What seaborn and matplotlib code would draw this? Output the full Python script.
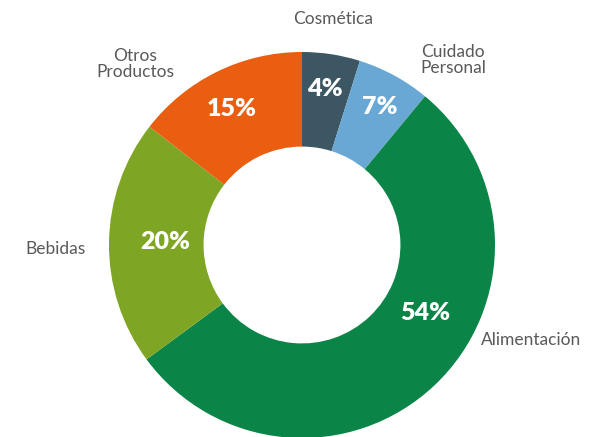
import matplotlib
matplotlib.use('Agg')
import matplotlib.pyplot as plt
import seaborn as sns

# data
categories = ['Cosmética', 'Cuidado\nPersonal', 'Alimentación', 'Bebidas', 'Otros\nProductos']
# angular share of each slice as drawn in the reference
shares = [4.85, 6.15, 53.9, 20.6, 14.5]
pct_labels = ['4%', '7%', '54%', '20%', '15%']
colors = ['#3d5663', '#69a8d5', '#0a8447', '#7ea524', '#e95e10']

sns.set_theme(style='white')
plt.rcParams['font.family'] = ['Lato', 'DejaVu Sans']

W, H = 592, 437
CX, CY, R = 302, 245, 193


def px(x, y):
    # pixel position -> data coords (pie radius = 1)
    return (x - CX) / R, (CY - y) / R


fig = plt.figure(figsize=(W / 100, H / 100), dpi=100)
ax = fig.add_axes([0, 0, 1, 1])

ax.pie(shares, colors=colors, startangle=90, counterclock=False,
       radius=1.0, wedgeprops=dict(width=0.49, linewidth=0))

# label placement (pixel centres)
pct_pos = [(325, 89), (380, 107), (425, 313), (165, 242), (232, 109)]
cat_pos = [(333, 19), (453, 60), (531, 340), (55, 249), (135, 64)]

for lab, (x, y) in zip(pct_labels, pct_pos):
    ax.text(*px(x, y), lab, ha='center', va='center',
            color='white', fontsize=18, fontweight='heavy')

for name, (x, y) in zip(categories, cat_pos):
    ax.text(*px(x, y), name, ha='center', va='center',
            color='#595959', fontsize=12.5, linespacing=0.95)

ax.set_xlim(-CX / R, (W - CX) / R)
ax.set_ylim((CY - H) / R, CY / R)
ax.set_aspect('auto')
ax.axis('off')

fig.savefig('out.png', dpi=100)
plt.close(fig)
